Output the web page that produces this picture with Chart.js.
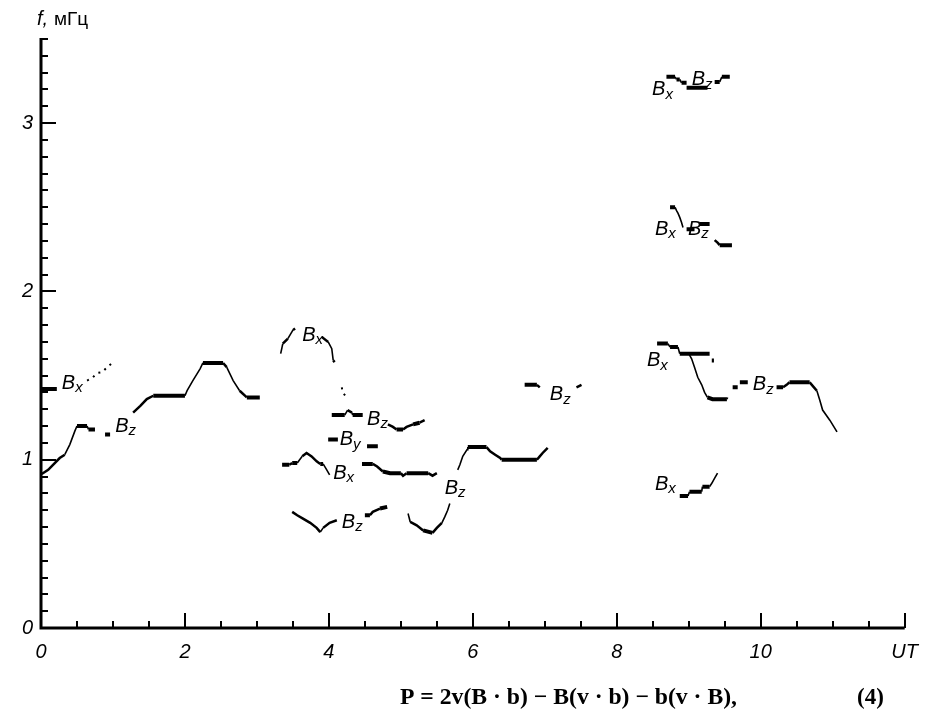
<!DOCTYPE html>
<html>
<head>
<meta charset="utf-8">
<script src="https://cdn.jsdelivr.net/npm/chart.js@4.4.0/dist/chart.umd.min.js"></script>
<style>
  html, body { margin: 0; padding: 0; background: #fff; }
  #wrap { width: 930px; height: 719px; position: relative; }
</style>
</head>
<body>
<div id="wrap"><canvas id="myChart" width="930" height="719"></canvas></div>
<script>
// f (mHz) against UT (h); each track is split where the picture breaks it
const bxA1 = [[0, 1.42], [0.22, 1.42]];
const bxA2 = [[0.64, 1.47], [0.71, 1.485], [0.78, 1.515], [0.85, 1.52], [0.92, 1.55], [0.99, 1.575]];
const bzA1 = [[0.01, 0.915], [0.10, 0.94], [0.26, 1.01], [0.33, 1.03], [0.40, 1.09], [0.47, 1.17], [0.50, 1.20], [0.64, 1.20], [0.66, 1.18], [0.75, 1.18]];
const bzA2 = [[0.89, 1.15], [0.96, 1.15]];
const bzA3 = [[1.28, 1.28], [1.38, 1.32], [1.47, 1.36], [1.56, 1.38], [2.00, 1.38], [2.03, 1.41], [2.11, 1.47], [2.21, 1.54], [2.25, 1.575], [2.53, 1.575], [2.58, 1.55], [2.67, 1.47], [2.76, 1.41], [2.86, 1.37], [3.04, 1.37]];

const bxB1 = [[3.33, 1.63], [3.36, 1.69], [3.43, 1.72], [3.50, 1.77], [3.53, 1.78]];
const bxB2 = [[3.90, 1.73], [3.99, 1.70], [4.04, 1.66], [4.06, 1.59], [4.08, 1.58]];
const bxB3 = [[4.18, 1.43], [4.19, 1.40], [4.25, 1.37]];
const bzB1 = [[4.04, 1.265], [4.22, 1.265], [4.26, 1.295], [4.32, 1.28], [4.33, 1.265], [4.47, 1.265]];
const bzB2 = [[4.82, 1.21], [4.89, 1.195], [4.94, 1.18], [5.03, 1.18], [5.08, 1.195], [5.17, 1.21], [5.26, 1.22], [5.33, 1.235]];
const byB1 = [[3.99, 1.12], [4.125, 1.12]];
const byB2 = [[4.53, 1.08], [4.68, 1.08]];
const bxC1 = [[3.35, 0.97], [3.45, 0.97], [3.49, 0.98], [3.56, 0.98], [3.63, 1.02], [3.69, 1.04], [3.76, 1.02], [3.83, 0.99], [3.88, 0.975], [3.92, 0.975], [3.97, 0.94], [4.01, 0.91]];
const bxC2 = [[4.46, 0.975], [4.61, 0.975], [4.67, 0.96], [4.75, 0.93], [4.85, 0.92], [5.00, 0.92], [5.03, 0.905], [5.08, 0.92], [5.38, 0.92], [5.44, 0.905], [5.50, 0.92]];
const bzC1 = [[3.49, 0.69], [3.56, 0.67], [3.64, 0.65], [3.74, 0.625], [3.83, 0.595], [3.88, 0.57], [3.92, 0.595], [4.01, 0.625], [4.11, 0.64]];
const bzC2 = [[4.50, 0.67], [4.57, 0.67], [4.61, 0.69], [4.71, 0.71], [4.81, 0.72]];

const bzD1 = [[5.10, 0.68], [5.13, 0.63], [5.22, 0.61], [5.31, 0.58], [5.44, 0.565], [5.50, 0.595], [5.57, 0.625], [5.61, 0.66], [5.65, 0.70], [5.68, 0.74]];
const bzD2 = [[5.79, 0.94], [5.82, 0.97], [5.86, 1.02], [5.92, 1.06], [5.93, 1.075], [6.19, 1.075], [6.24, 1.05], [6.31, 1.03], [6.38, 1.01], [6.40, 1.0], [6.89, 1.0], [6.93, 1.02], [6.97, 1.04], [7.04, 1.07]];
const bzE1 = [[6.72, 1.445], [6.89, 1.445], [6.93, 1.43]];
const bzE2 = [[7.44, 1.43], [7.51, 1.445]];

const bxD = [[8.69, 3.275], [8.81, 3.275], [8.83, 3.26], [8.875, 3.26], [8.90, 3.24], [8.97, 3.24]];
const bzF1 = [[8.97, 3.21], [9.26, 3.21]];
const bzF2 = [[9.36, 3.245], [9.43, 3.245], [9.46, 3.275], [9.57, 3.275]];
const bxE = [[8.74, 2.50], [8.81, 2.50], [8.83, 2.48], [8.85, 2.465], [8.875, 2.44], [8.90, 2.41], [8.92, 2.38]];
const bzG1 = [[8.97, 2.37], [9.08, 2.37]];
const bzG2 = [[9.15, 2.40], [9.29, 2.40]];
const bzG3 = [[9.36, 2.305], [9.40, 2.29], [9.43, 2.275], [9.60, 2.275]];
const bxF1 = [[8.56, 1.69], [8.71, 1.69], [8.74, 1.67], [8.85, 1.67], [8.875, 1.63], [8.99, 1.63], [9.29, 1.63]];
const bxF2 = [[9.32, 1.59], [9.35, 1.59]];
const bzH1 = [[9.00, 1.63], [9.04, 1.60], [9.08, 1.55], [9.125, 1.49], [9.18, 1.445], [9.22, 1.40], [9.26, 1.37], [9.33, 1.36], [9.53, 1.36], [9.54, 1.37]];
const bzH2 = [[9.61, 1.43], [9.68, 1.43]];
const bzH3 = [[9.71, 1.46], [9.82, 1.46]];
const bzH4 = [[10.22, 1.43], [10.31, 1.43], [10.36, 1.445], [10.40, 1.46], [10.68, 1.46], [10.71, 1.445], [10.78, 1.41], [10.82, 1.355], [10.86, 1.295], [10.96, 1.235], [11.06, 1.165]];
const bxG = [[8.875, 0.785], [8.99, 0.785], [9.01, 0.81], [9.18, 0.81], [9.19, 0.84], [9.29, 0.84], [9.32, 0.86], [9.36, 0.89], [9.40, 0.92]];

// B-component labels: [component, UT, f]
const curveLabels = [
  ['x', 0.29, 1.455], ['z', 1.03, 1.20], ['x', 3.63, 1.74], ['z', 4.53, 1.24],
  ['y', 4.15, 1.12], ['x', 4.06, 0.92], ['z', 4.18, 0.63], ['z', 5.61, 0.83],
  ['z', 7.07, 1.385], ['x', 8.49, 3.20], ['z', 9.04, 3.26], ['x', 8.53, 2.37],
  ['z', 8.99, 2.37], ['x', 8.42, 1.59], ['z', 9.89, 1.445], ['x', 8.53, 0.855]
];

const xTickValues = [0, 2, 4, 6, 8, 10, 12];
const xTickLabels = ['0', '2', '4', '6', '8', '10', 'UT'];
const yTickValues = [0, 1, 2, 3];
const yTickLabels = ['0', '1', '2', '3'];

const solid = [bxA1, bzA1, bzA2, bzA3, bxB1, bxB2, bzB1, bzB2, byB1, byB2, bxC1, bxC2, bzC1, bzC2,
  bzD1, bzD2, bzE1, bzE2, bxD, bzF1, bzF2, bxE, bzG1, bzG2, bzG3, bxF1, bxF2, bzH1, bzH2, bzH3, bzH4, bxG];
const dotted = [bxA2, bxB3];

function near(a, b) { return Math.abs(a - b) < 1e-6; }

// flat parts of the tracks are drawn heavy, steep parts thin
function segWidth(c) {
  const dx = Math.abs(c.p1.x - c.p0.x), dy = Math.abs(c.p1.y - c.p0.y);
  if (dy <= 0.35 * dx) return 4;
  if (dy <= 1.2 * dx) return 2.5;
  return 1.6;
}

const datasets = [];
solid.forEach(s => datasets.push({
  data: s.map(p => ({ x: p[0], y: p[1] })),
  borderColor: '#000', borderWidth: 3, pointRadius: 0, tension: 0,
  segment: { borderWidth: segWidth }
}));
dotted.forEach(s => datasets.push({
  data: s.map(p => ({ x: p[0], y: p[1] })),
  borderColor: '#000', borderWidth: 2, borderDash: [2, 5], pointRadius: 0, tension: 0
}));

const axesPlugin = {
  id: 'axes',
  afterDraw(chart) {
    const { ctx, chartArea: a, scales: { x, y } } = chart;
    ctx.save();
    ctx.strokeStyle = '#000';
    ctx.lineWidth = 3;
    ctx.beginPath();
    ctx.moveTo(a.left, a.top - 1);
    ctx.lineTo(a.left, a.bottom);
    ctx.lineTo(a.right, a.bottom);
    ctx.stroke();
    ctx.lineWidth = 2;
    y.ticks.forEach(t => {
      const py = Math.round(y.getPixelForValue(t.value));
      const len = near(t.value, Math.round(t.value)) ? 15 : 7;
      ctx.beginPath(); ctx.moveTo(a.left, py); ctx.lineTo(a.left + len, py); ctx.stroke();
    });
    x.ticks.forEach(t => {
      if (near(t.value, 0)) return;
      const px = Math.round(x.getPixelForValue(t.value));
      const len = near(t.value % 2, 0) ? 15 : 7;
      ctx.beginPath(); ctx.moveTo(px, a.bottom); ctx.lineTo(px, a.bottom - len); ctx.stroke();
    });

    // curve labels
    ctx.fillStyle = '#000';
    ctx.textBaseline = 'middle';
    curveLabels.forEach(([sub, ux, fy]) => {
      const px = x.getPixelForValue(ux), py = y.getPixelForValue(fy);
      ctx.font = 'italic 20px "Liberation Sans", Arial, sans-serif';
      ctx.fillText('B', px, py);
      const w = ctx.measureText('B').width;
      ctx.font = 'italic 15px "Liberation Sans", Arial, sans-serif';
      ctx.fillText(sub, px + w, py + 5);
    });

    // axis title
    ctx.textBaseline = 'alphabetic';
    ctx.font = 'italic 20px "Liberation Sans", Arial, sans-serif';
    ctx.fillText('f,', 37, 25);
    ctx.font = '19px "Liberation Sans", Arial, sans-serif';
    ctx.fillText('мГц', 54, 25);

    // formula under the figure, stretched to the width it has in the source
    ctx.font = 'bold 23px "Liberation Serif", "Times New Roman", serif';
    const formula = 'P = 2v(B · b) − B(v · b) − b(v · B),';
    const fw = ctx.measureText(formula).width;
    ctx.save();
    ctx.translate(400, 704);
    ctx.scale(337 / fw, 1);
    ctx.fillText(formula, 0, 0);
    ctx.restore();
    ctx.fillText('(4)', 857, 704);
    ctx.restore();
  }
};

const ctx = document.getElementById('myChart').getContext('2d');
const chart = new Chart(ctx, {
  type: 'line',
  data: { datasets: datasets },
  options: {
    responsive: false,
    animation: false,
    layout: { padding: { top: 39, right: 25, left: 0, bottom: 0 } },
    plugins: { legend: { display: false }, tooltip: { enabled: false } },
    scales: {
      x: {
        type: 'linear', min: 0, max: 12,
        grid: { display: false, drawTicks: false },
        border: { display: false },
        afterFit: s => { s.height = 91; },
        ticks: {
          stepSize: 0.5, autoSkip: false, maxRotation: 0, padding: 12, color: '#000',
          font: { family: '"Liberation Sans", Arial, sans-serif', size: 20, style: 'italic' },
          callback: v => {
            const i = xTickValues.findIndex(t => near(t, v));
            return i >= 0 ? xTickLabels[i] : '';
          }
        }
      },
      y: {
        type: 'linear', min: 0, max: 3.5,
        grid: { display: false, drawTicks: false },
        border: { display: false },
        afterFit: s => { s.width = 41; },
        ticks: {
          stepSize: 0.1, autoSkip: false, padding: 8, color: '#000',
          font: { family: '"Liberation Sans", Arial, sans-serif', size: 20, style: 'italic' },
          callback: v => {
            const i = yTickValues.findIndex(t => near(t, v));
            return i >= 0 ? yTickLabels[i] : '';
          }
        }
      }
    }
  },
  plugins: [axesPlugin]
});
</script>
</body>
</html>
